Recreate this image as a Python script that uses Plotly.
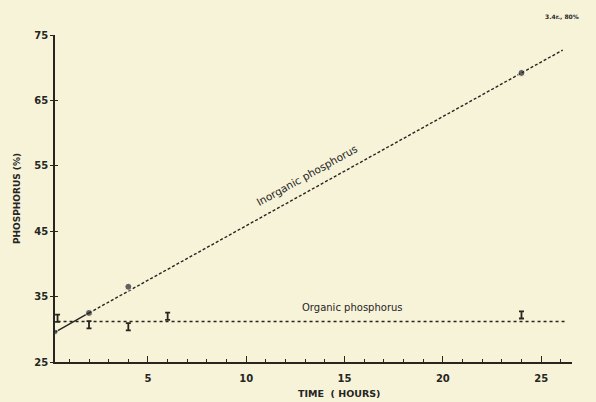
import plotly.graph_objects as go

# ---- data ----
inorg_time = [0.3, 2, 4, 24]
inorg_val = [29.6, 32.5, 36.5, 69.2]
inorg_fit_time = [2, 26.1]
inorg_fit_val = [32.5, 72.7]
org_time = [0.4, 2, 4, 6, 24]
org_val = [31.7, 30.7, 30.4, 32.0, 32.2]
org_line_time = [0.4, 26.3]
org_line_val = [31.2, 31.2]
x_ticks = [5, 10, 15, 20, 25]
y_ticks = [25, 35, 45, 55, 65, 75]

INK = "#26251f"
BG = "#f7f3d9"
FONT = "DejaVu Sans"

fig = go.Figure()
# organic dashed level line
fig.add_trace(go.Scatter(x=org_line_time, y=org_line_val, mode="lines",
                         line=dict(color=INK, width=1.4, dash="3px,3px"),
                         hoverinfo="skip", showlegend=False))
# inorganic fitted dashed line
fig.add_trace(go.Scatter(x=inorg_fit_time, y=inorg_fit_val, mode="lines",
                         line=dict(color=INK, width=1.4, dash="3px,2px"),
                         hoverinfo="skip", showlegend=False))
# inorganic first solid segment
fig.add_trace(go.Scatter(x=inorg_time[:2], y=inorg_val[:2], mode="lines",
                         line=dict(color=INK, width=1.4),
                         hoverinfo="skip", showlegend=False))
# inorganic points
fig.add_trace(go.Scatter(x=inorg_time, y=inorg_val, mode="markers",
                         marker=dict(color=INK, size=[5, 7, 7, 7], symbol="circle"),
                         cliponaxis=False, showlegend=False))
# organic points (small bar glyphs)
fig.add_trace(go.Scatter(x=org_time, y=org_val, mode="markers",
                         marker=dict(color=INK, size=2, opacity=0),
                         error_y=dict(type="constant", value=0.55, color=INK,
                                      thickness=1.8, width=2.5),
                         cliponaxis=False, showlegend=False))
# invisible trace for the inner tick axis
fig.add_trace(go.Scatter(x=[13], y=[50], yaxis="y2", mode="markers",
                         marker=dict(opacity=0), hoverinfo="skip", showlegend=False))

TICKFONT = dict(family=FONT, size=10, color=INK, weight="bold")

fig.update_layout(
    width=596, height=402,
    margin=dict(l=55, r=24, t=35, b=40),
    paper_bgcolor=BG, plot_bgcolor=BG,
    font=dict(family=FONT, color=INK, size=10),
    xaxis=dict(range=[0.27, 26.57], showgrid=False, zeroline=False,
               showline=True, linecolor=INK, linewidth=1.5,
               tickmode="array", tickvals=x_ticks, ticktext=[str(v) for v in x_ticks],
               ticks="inside", ticklen=6, tickwidth=1.2, tickcolor=INK,
               ticklabelstandoff=6, tickfont=TICKFONT,
               minor=dict(dtick=1, tick0=0, ticks="inside", ticklen=3,
                          tickwidth=1, tickcolor=INK)),
    yaxis=dict(range=[25, 75], showgrid=False, zeroline=False,
               showline=True, linecolor=INK, linewidth=1.5,
               tickmode="array", tickvals=y_ticks, ticktext=[str(v) for v in y_ticks],
               ticks="outside", ticklen=3, tickwidth=1.2, tickcolor=INK,
               tickfont=TICKFONT,
               title=dict(text="PHOSPHORUS (%)", standoff=12,
                          font=dict(family=FONT, size=9, color=INK, weight="bold"))),
    yaxis2=dict(range=[25, 75], overlaying="y", side="left", showgrid=False,
                zeroline=False, showline=False, showticklabels=False,
                tickmode="array", tickvals=y_ticks,
                ticks="inside", ticklen=3, tickwidth=1.2, tickcolor=INK),
    annotations=[
        dict(x=13.1, y=53.6, xref="x", yref="y", text="Inorganic phosphorus",
             showarrow=False, textangle=-29,
             font=dict(family=FONT, size=10.5, color=INK)),
        dict(x=15.4, y=33.3, xref="x", yref="y", text="Organic phosphorus",
             showarrow=False, font=dict(family=FONT, size=10, color=INK)),
        dict(x=339, y=393, text="TIME  ( HOURS)",
             showarrow=False, font=dict(family=FONT, size=9.5, color=INK, weight="bold")),
        dict(x=562, y=17, text="3.4r., 80%", showarrow=False,
             font=dict(family=FONT, size=6, color=INK, weight="bold")),
    ],
)
# convert pixel-placed annotations to paper coords
anns = list(fig.layout.annotations)
pw, ph = 596 - 55 - 24, 402 - 35 - 40
for a in anns[2:]:
    px, py = a.x, a.y
    a.update(x=(px - 55) / pw, y=1 - (py - 35) / ph, xref="paper", yref="paper",
             xanchor="center", yanchor="middle")
fig.layout.annotations = anns

fig.write_html("out.html")
